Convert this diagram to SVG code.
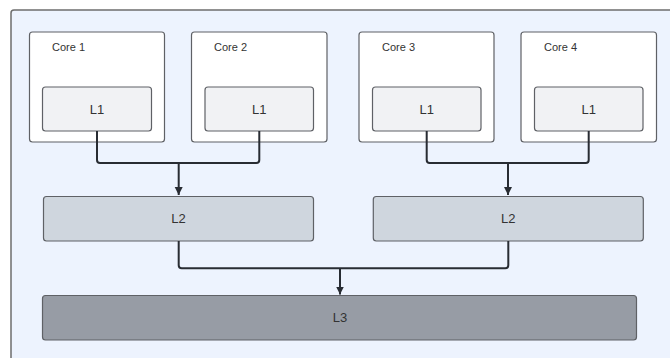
<svg xmlns="http://www.w3.org/2000/svg" width="670" height="358" viewBox="0 0 670 358">
  <defs>
    <marker id="arrow" markerWidth="10" markerHeight="10" refX="8" refY="5" orient="auto" markerUnits="userSpaceOnUse">
      <path d="M0,1 L8,5 L0,9 Z" fill="#282c33"/>
    </marker>
    <style>
      .frame { fill: #edf3fe; stroke: #6e6e6e; stroke-width: 1.5; }
      .core { fill: #ffffff; stroke: #5f6166; stroke-width: 1.2; }
      .l1 { fill: #f1f2f4; stroke: #5f6166; stroke-width: 1.2; }
      .l2 { fill: #cfd6de; stroke: #5f6166; stroke-width: 1.2; }
      .l3 { fill: #979ca5; stroke: #5f6166; stroke-width: 1.2; }
      .lbl { font-family: "Liberation Sans", Arial, sans-serif; fill: #333333; }
      .core-lbl { font-size: 11px; }
      .cache-lbl { font-size: 13px; text-anchor: middle; dominant-baseline: central; }
      .wire { fill: none; stroke: #282c33; stroke-width: 2; stroke-linejoin: round; }
    </style>
  </defs>

  <!-- enclosing chip frame -->
  <rect class="frame" x="11" y="10" width="680" height="370" rx="3"/>

  <g id="core1">
    <rect class="core" x="29.5" y="32" width="135" height="110" rx="3"/>
    <text class="lbl core-lbl" x="52" y="51">Core 1</text>
  </g>
  <g id="core2">
    <rect class="core" x="191.5" y="32" width="135.5" height="110" rx="3"/>
    <text class="lbl core-lbl" x="214" y="51">Core 2</text>
  </g>
  <g id="core3">
    <rect class="core" x="359" y="32" width="135" height="110" rx="3"/>
    <text class="lbl core-lbl" x="382" y="51">Core 3</text>
  </g>
  <g id="core4">
    <rect class="core" x="521" y="32" width="135.5" height="110" rx="3"/>
    <text class="lbl core-lbl" x="544" y="51">Core 4</text>
  </g>

  <g id="l1-core1">
    <rect class="l1" x="42.5" y="87" width="109" height="44" rx="3"/>
    <text class="lbl cache-lbl" x="97" y="109">L1</text>
  </g>
  <g id="l1-core2">
    <rect class="l1" x="205" y="87" width="108.5" height="44" rx="3"/>
    <text class="lbl cache-lbl" x="259.3" y="109">L1</text>
  </g>
  <g id="l1-core3">
    <rect class="l1" x="372.5" y="87" width="108.5" height="44" rx="3"/>
    <text class="lbl cache-lbl" x="426.7" y="109">L1</text>
  </g>
  <g id="l1-core4">
    <rect class="l1" x="534.5" y="87" width="108.5" height="44" rx="3"/>
    <text class="lbl cache-lbl" x="588.7" y="109">L1</text>
  </g>

  <g id="l2-left">
    <rect class="l2" x="43.5" y="196.5" width="270" height="44.5" rx="3"/>
    <text class="lbl cache-lbl" x="178.5" y="218.5">L2</text>
  </g>
  <g id="l2-right">
    <rect class="l2" x="373.3" y="196.5" width="270" height="44.5" rx="3"/>
    <text class="lbl cache-lbl" x="508.3" y="218.5">L2</text>
  </g>

  <g id="l3">
    <rect class="l3" x="42.5" y="295.5" width="594" height="44.5" rx="3"/>
    <text class="lbl cache-lbl" x="340" y="317.5">L3</text>
  </g>

  <g id="connectors">
    <path class="wire" d="M97,131 V160 Q97,163 100,163 H256.3 Q259.3,163 259.3,160 V131"/>
    <path class="wire" d="M178.7,163 V195" marker-end="url(#arrow)"/>
    <path class="wire" d="M426.7,131 V160 Q426.7,163 429.7,163 H585.7 Q588.7,163 588.7,160 V131"/>
    <path class="wire" d="M508,163 V195" marker-end="url(#arrow)"/>
    <path class="wire" d="M178.7,241 V265.3 Q178.7,268.3 181.7,268.3 H505.3 Q508.3,268.3 508.3,265.3 V241"/>
    <path class="wire" d="M340,268.3 V294.5" marker-end="url(#arrow)"/>
  </g>
</svg>
